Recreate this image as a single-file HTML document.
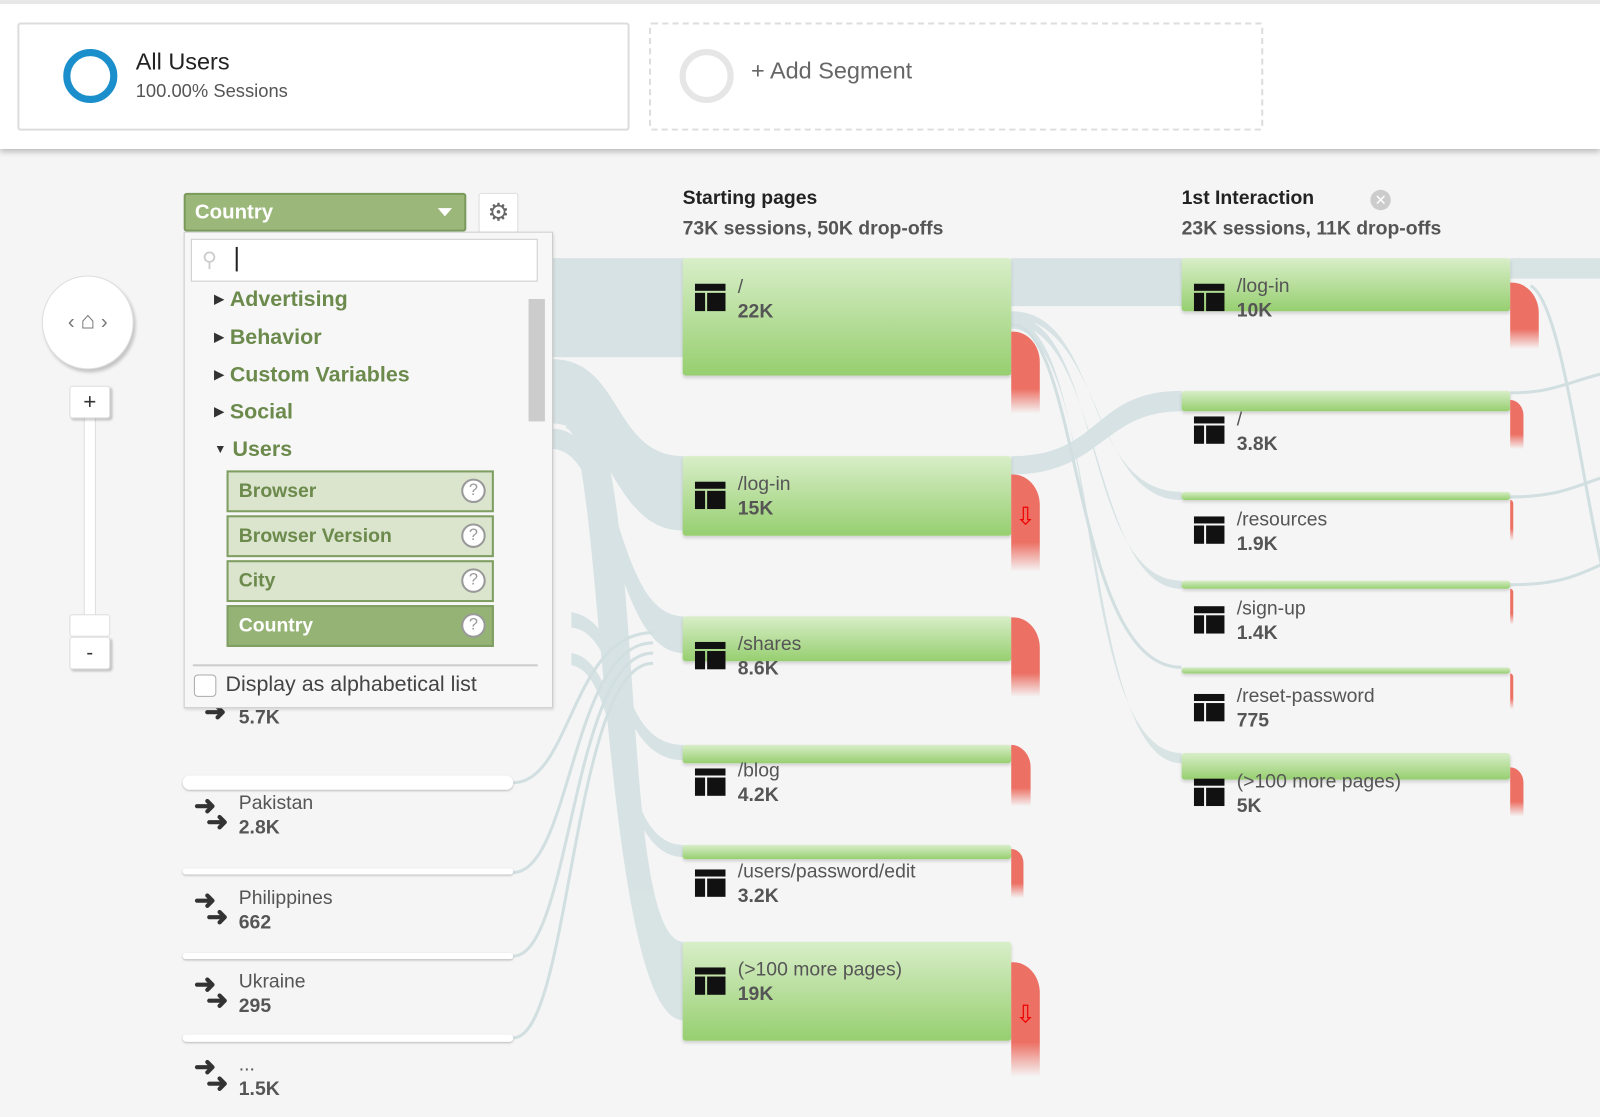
<!DOCTYPE html>
<html><head><meta charset="utf-8"><style>
*{box-sizing:border-box;margin:0;padding:0}
html,body{width:1600px;height:1117px;overflow:hidden;background:#f5f5f5}
body{font-family:"Liberation Sans",sans-serif}
#w{position:absolute;left:0;top:0;width:1568px;height:1095px;transform:scale(1.0204);transform-origin:0 0}
.a{position:absolute}
.top{left:0;top:0;width:1568px;height:146px;background:#fff;border-top:4px solid #e8e8e8;box-shadow:0 3px 6px rgba(0,0,0,.25)}
.node{position:absolute;left:669px;width:322px;border-radius:3px;background:linear-gradient(#d8eec8,#97cf70);box-shadow:0 2px 3px rgba(0,0,0,.15)}
.n2{left:1158px}
.red{position:absolute;width:28px;border-top-right-radius:26px 30px;background:linear-gradient(#ec7064 70%,rgba(236,112,100,0))}
.ic{position:absolute;width:30px;height:27px}
.lbl{position:absolute;font-size:19px;color:#555;line-height:24px}
.lbl b{display:block;font-weight:bold}
.sub{position:absolute;left:222px;width:262px;height:41px;background:#dbe4cd;border:2px solid #7f9e62;color:#6b8a4c;font-weight:bold;font-size:19px;padding:8px 10px}
.q{position:absolute;right:6px;top:6px;width:24px;height:24px;border:2px solid #999;border-radius:50%;background:#fff;color:#999;font-size:16px;text-align:center;line-height:20px;font-weight:normal}
.cat{position:absolute;left:210px;color:#6b8a4c;font-weight:bold;font-size:21px}
.cat i{font-style:normal;font-size:12px;color:#333;margin-right:6px;vertical-align:3px}
.cb{position:absolute;left:179px;width:324px;background:#fff;border-radius:7px;box-shadow:0 1px 2px rgba(0,0,0,.25)}
.arr{position:absolute;font-size:26px;color:#333;line-height:18px;font-weight:bold}
</style></head><body><div id="w">
<svg width="0" height="0" style="position:absolute"><defs><symbol id="ic" viewBox="0 0 30 27"><rect x="0" y="0" width="30" height="7" fill="#111"/><rect x="0" y="9" width="10" height="18" fill="#111"/><rect x="12" y="9" width="18" height="18" fill="#111"/></symbol></defs></svg>
<div class="a top"></div>
<div class="a" style="left:17px;top:22px;width:600px;height:106px;border:2px solid #ddd;border-radius:3px;background:#fff"></div>
<div class="a" style="left:62px;top:48px;width:53px;height:53px;border:7px solid #1b8fcb;border-radius:50%"></div>
<div class="a" style="left:133px;top:47px;font-size:23px;color:#222">All Users</div>
<div class="a" style="left:133px;top:79px;font-size:18px;color:#555">100.00% Sessions</div>
<div class="a" style="left:636px;top:22px;width:602px;height:106px;border:2px dashed #ddd;border-radius:3px"></div>
<div class="a" style="left:666px;top:48px;width:53px;height:53px;border:6px solid #e6e6e6;border-radius:50%"></div>
<div class="a" style="left:736px;top:56px;font-size:23px;color:#666">+ Add Segment</div>

<svg class="a" style="left:0;top:0" width="1568" height="1095">
<g fill="#d2dfe1" opacity=".85">
<rect x="541" y="253" width="130" height="97"/>
<path d="M541 352 C610 352 600 447 670 447 L670 520 C600 520 600 415 541 415Z"/>
<path d="M541 420 C610 420 600 604 670 604 L670 640 C600 640 600 440 541 440Z"/>
<path d="M560 600 C620 610 600 730 670 730 L670 745 C600 745 610 620 560 615Z"/>
<path d="M560 640 C620 650 600 828 670 828 L670 840 C600 840 610 660 560 652Z"/>
<path d="M555 380 C640 380 600 923 670 923 L670 1000 C590 1000 590 420 555 420Z"/>
<rect x="991" y="253" width="168" height="47"/>
<rect x="1480" y="253" width="120" height="20"/>
<path d="M991 447 C1080 447 1070 383 1158 383 L1158 403 C1080 403 1080 465 991 465Z"/>
<path d="M991 305 C1080 305 1060 482 1158 482 L1158 490 C1070 490 1080 312 991 312Z"/>
<path d="M991 310 C1080 310 1060 569 1158 569 L1158 577 C1070 577 1080 318 991 318Z"/>
<path d="M991 314 C1080 314 1050 738 1158 738 L1158 748 C1060 748 1080 322 991 322Z"/>
</g>
<g fill="none" stroke="#d2dfe1" stroke-width="3">
<path d="M991 318 C1060 318 1050 654 1158 654"/>
<path d="M503 767 C560 767 560 620 640 620"/>
<path d="M503 855 C560 855 560 630 640 630"/>
<path d="M503 937 C560 937 560 640 640 640"/>
<path d="M503 1017 C560 1017 560 650 640 650"/>
<path d="M1480 385 C1530 385 1540 370 1600 360"/>
<path d="M1480 487 C1540 487 1550 470 1600 460"/>
<path d="M1480 573 C1540 573 1550 560 1600 540"/>
<path d="M1500 280 C1540 300 1560 600 1600 640"/>
</g>
</svg>

<div class="node" style="top:253px;height:115px"></div>
<div class="node" style="top:447px;height:78px"></div>
<div class="node" style="top:604px;height:44px"></div>
<div class="node" style="top:730px;height:18px"></div>
<div class="node" style="top:828px;height:14px"></div>
<div class="node" style="top:923px;height:97px"></div>
<div class="red" style="left:991px;top:325px;height:80px"></div>
<div class="red" style="left:991px;top:465px;height:95px"></div>
<div class="red" style="left:991px;top:605px;height:78px"></div>
<div class="red" style="left:991px;top:730px;width:19px;height:60px"></div>
<div class="red" style="left:991px;top:832px;width:12px;height:48px"></div>
<div class="red" style="left:991px;top:943px;height:112px"></div>
<div class="a" style="left:995px;top:492px;color:#e00;font-size:24px">⇩</div>
<div class="a" style="left:995px;top:980px;color:#e00;font-size:24px">⇩</div>
<svg class="ic" style="left:681px;top:278px"><use href="#ic"/></svg><div class="lbl" style="left:723px;top:270px">/<b>22K</b></div>
<svg class="ic" style="left:681px;top:472px"><use href="#ic"/></svg><div class="lbl" style="left:723px;top:463px">/log-in<b>15K</b></div>
<svg class="ic" style="left:681px;top:629px"><use href="#ic"/></svg><div class="lbl" style="left:723px;top:620px">/shares<b>8.6K</b></div>
<svg class="ic" style="left:681px;top:753px"><use href="#ic"/></svg><div class="lbl" style="left:723px;top:744px">/blog<b>4.2K</b></div>
<svg class="ic" style="left:681px;top:852px"><use href="#ic"/></svg><div class="lbl" style="left:723px;top:843px">/users/password/edit<b>3.2K</b></div>
<svg class="ic" style="left:681px;top:948px"><use href="#ic"/></svg><div class="lbl" style="left:723px;top:939px">(&gt;100 more pages)<b>19K</b></div>

<div class="node n2" style="top:253px;height:52px"></div>
<div class="node n2" style="top:383px;height:20px"></div>
<div class="node n2" style="top:482px;height:8px"></div>
<div class="node n2" style="top:569px;height:8px"></div>
<div class="node n2" style="top:654px;height:6px"></div>
<div class="node n2" style="top:738px;height:26px"></div>
<div class="red" style="left:1480px;top:277px;height:65px"></div>
<div class="red" style="left:1480px;top:392px;width:13px;height:48px"></div>
<div class="red" style="left:1480px;top:490px;width:3px;height:40px"></div>
<div class="red" style="left:1480px;top:577px;width:3px;height:35px"></div>
<div class="red" style="left:1480px;top:660px;width:3px;height:35px"></div>
<div class="red" style="left:1480px;top:752px;width:13px;height:48px"></div>
<svg class="ic" style="left:1170px;top:278px"><use href="#ic"/></svg><div class="lbl" style="left:1212px;top:269px">/log-in<b>10K</b></div>
<svg class="ic" style="left:1170px;top:408px"><use href="#ic"/></svg><div class="lbl" style="left:1212px;top:400px">/<b>3.8K</b></div>
<svg class="ic" style="left:1170px;top:506px"><use href="#ic"/></svg><div class="lbl" style="left:1212px;top:498px">/resources<b>1.9K</b></div>
<svg class="ic" style="left:1170px;top:594px"><use href="#ic"/></svg><div class="lbl" style="left:1212px;top:585px">/sign-up<b>1.4K</b></div>
<svg class="ic" style="left:1170px;top:680px"><use href="#ic"/></svg><div class="lbl" style="left:1212px;top:671px">/reset-password<b>775</b></div>
<svg class="ic" style="left:1170px;top:763px"><use href="#ic"/></svg><div class="lbl" style="left:1212px;top:755px">(&gt;100 more pages)<b>5K</b></div>

<div class="a" style="left:669px;top:184px;font-size:19px;font-weight:bold;color:#222">Starting pages</div>
<div class="a" style="left:669px;top:214px;font-size:19px;font-weight:bold;color:#555">73K sessions, 50K drop-offs</div>
<div class="a" style="left:1158px;top:184px;font-size:19px;font-weight:bold;color:#222">1st Interaction</div>
<div class="a" style="left:1343px;top:186px;width:20px;height:20px;border-radius:50%;background:#ccc;color:#fff;font-size:14px;text-align:center;line-height:20px">✕</div>
<div class="a" style="left:1158px;top:214px;font-size:19px;font-weight:bold;color:#555">23K sessions, 11K drop-offs</div>

<div class="arr" style="left:200px;top:688px">➜</div><div class="lbl" style="left:234px;top:692px"><b>5.7K</b></div>
<div class="cb" style="top:760px;height:14px"></div>
<div class="cb" style="top:851px;height:6px"></div>
<div class="cb" style="top:934px;height:6px"></div>
<div class="cb" style="top:1014px;height:7px"></div>
<div class="arr" style="left:190px;top:780px">➜</div><div class="arr" style="left:202px;top:796px">➜</div><div class="lbl" style="left:234px;top:776px">Pakistan<b>2.8K</b></div>
<div class="arr" style="left:190px;top:873px">➜</div><div class="arr" style="left:202px;top:889px">➜</div><div class="lbl" style="left:234px;top:869px">Philippines<b>662</b></div>
<div class="arr" style="left:190px;top:955px">➜</div><div class="arr" style="left:202px;top:971px">➜</div><div class="lbl" style="left:234px;top:951px">Ukraine<b>295</b></div>
<div class="arr" style="left:190px;top:1036px">➜</div><div class="arr" style="left:202px;top:1052px">➜</div><div class="lbl" style="left:234px;top:1032px">...<b>1.5K</b></div>

<div class="a" style="left:41px;top:270px;width:90px;height:92px;border-radius:50%;background:#fff;border:1px solid #ddd;box-shadow:2px 3px 3px rgba(0,0,0,.2);text-align:center;line-height:88px;color:#777;font-size:20px">‹ <span style="font-size:24px">⌂</span> ›</div>
<div class="a" style="left:82px;top:408px;width:12px;height:196px;background:#fff;border:1px solid #ddd"></div>
<div class="a" style="left:68px;top:378px;width:40px;height:32px;background:#fff;border:1px solid #ddd;border-radius:3px;box-shadow:2px 2px 2px rgba(0,0,0,.2);text-align:center;font-size:22px;line-height:30px;color:#333">+</div>
<div class="a" style="left:68px;top:602px;width:40px;height:22px;background:#fff;border:1px solid #ddd;border-radius:3px"></div>
<div class="a" style="left:68px;top:624px;width:40px;height:32px;background:#fff;border:1px solid #ddd;border-radius:3px;box-shadow:2px 2px 2px rgba(0,0,0,.2);text-align:center;font-size:20px;line-height:30px;color:#333">-</div>

<div class="a" style="left:180px;top:189px;width:277px;height:38px;background:#9bb77a;border:2px solid #7a9a5c;border-radius:3px;color:#fff;font-weight:bold;font-size:20px;padding:6px 9px">Country<span style="position:absolute;right:12px;top:13px;border:7px solid transparent;border-top:8px solid #fff"></span></div>
<div class="a" style="left:469px;top:189px;width:39px;height:39px;background:#fff;border:1px solid #ddd;border-radius:3px;text-align:center;font-size:24px;line-height:37px;color:#666">⚙</div>
<div class="a" style="left:180px;top:227px;width:362px;height:467px;background:#f7f7f7;border:1px solid #ccc;box-shadow:1px 2px 3px rgba(0,0,0,.15)"></div>
<div class="a" style="left:187px;top:234px;width:340px;height:42px;background:#fff;border:1px solid #ccc"></div>
<div class="a" style="left:198px;top:242px;font-size:20px;color:#ccc">⚲</div>
<div class="a" style="left:231px;top:242px;width:2px;height:24px;background:#222"></div>
<div class="a" style="left:518px;top:293px;width:16px;height:120px;background:#ccc"></div>
<div class="cat" style="top:282px"><i>▶</i>Advertising</div>
<div class="cat" style="top:319px"><i>▶</i>Behavior</div>
<div class="cat" style="top:356px"><i>▶</i>Custom Variables</div>
<div class="cat" style="top:392px"><i>▶</i>Social</div>
<div class="cat" style="top:429px"><i>▼</i>Users</div>
<div class="sub" style="top:461px">Browser<span class="q">?</span></div>
<div class="sub" style="top:505px">Browser Version<span class="q">?</span></div>
<div class="sub" style="top:549px">City<span class="q">?</span></div>
<div class="sub" style="top:593px;background:#95b375;color:#fff">Country<span class="q">?</span></div>
<div class="a" style="left:189px;top:651px;width:338px;height:2px;background:#ccc"></div>
<div class="a" style="left:190px;top:661px;width:22px;height:22px;border:1px solid #aaa;border-radius:4px;background:#fff"></div>
<div class="a" style="left:221px;top:659px;font-size:21px;color:#444">Display as alphabetical list</div>
</div></body></html>
